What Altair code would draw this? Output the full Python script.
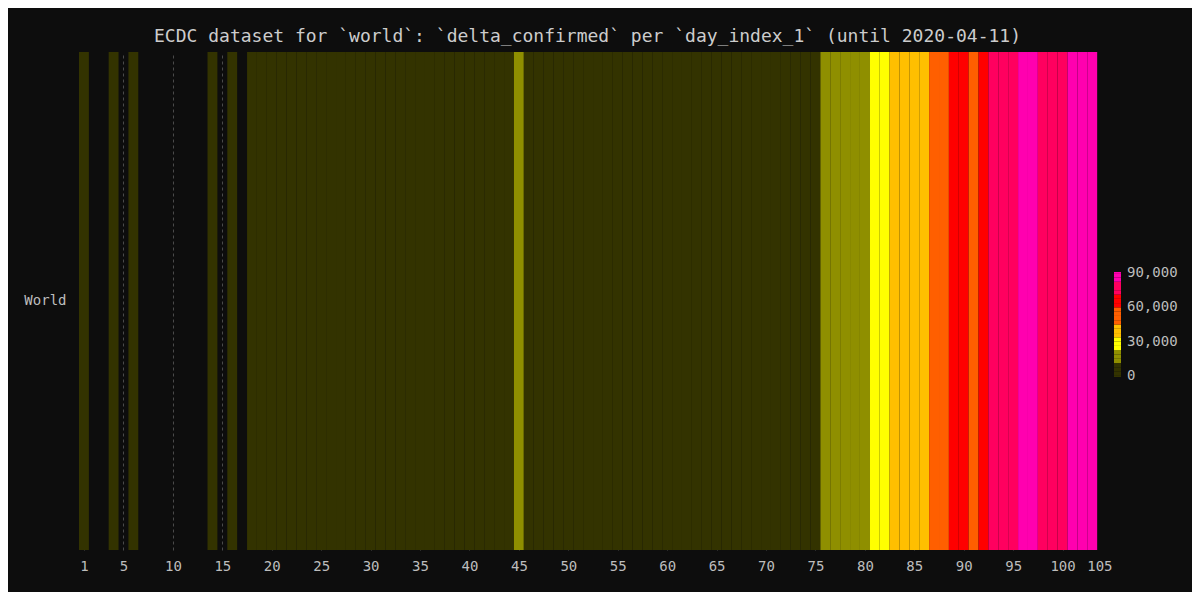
import altair as alt
import pandas as pd

# ---- data ----
region = "World"
day_index_1 = list(range(1, 104))
delta_confirmed = [
    27, 0, 0, 17, 0, 15, 0, 0, 0, 0,            # days 1-10
    0, 0, 0, 1, 0, 1, 0, 4, 136, 19,           # days 11-20
    151, 140, 97, 266, 453, 674, 802, 2984, 1467, 1740,   # 21-30
    1980, 2102, 2590, 2829, 3235, 3684, 3494, 3143, 3385, 2652,  # 31-40
    2984, 2473, 2022, 1820, 15141, 3650, 2641, 2009, 2048, 1888,  # 41-50
    1751, 650, 1000, 1000, 700, 600, 900, 800, 1100, 1300,  # 51-60
    1800, 1900, 1800, 2200, 2300, 2700, 2900, 3800, 3900, 4000,  # 61-70
    4300, 7700, 7900, 9600, 10400, 11700, 13900, 14500, 16000, 21500,  # 71-80
    26000, 32000, 34000, 36500, 40000, 43500, 49500, 55000, 64000, 60000,  # 81-90
    55000, 62000, 73000, 76000, 77000, 86000, 81000, 74000, 69000, 74000,  # 91-100
    82000, 86000, 89800,                       # 101-103
]
tick_values = [1, 5, 10, 15, 20, 25, 30, 35, 40, 45, 50, 55, 60, 65, 70,
               75, 80, 85, 90, 95, 100, 105]
legend_labels = [0, 30000, 60000, 90000]
color_domain = [-1000, 91000]
# boundaries of the legend's colour steps
legend_steps = [-1000] + list(range(0, 90001, 3750)) + [91000]
palette = [
    "#333300", "#333300", "#333300",
    "#8f8f00", "#8f8f00", "#8f8f00",
    "#ffff00", "#ffff00", "#ffff00",
    "#ffbf00", "#ffbf00", "#ffbf00",
    "#ff5f00", "#ff5f00", "#ff5f00",
    "#ff0000", "#ff0000", "#ff0000",
    "#ff005f", "#ff005f", "#ff005f",
    "#ff00af", "#ff00af", "#ff00af",
]

df = pd.DataFrame({
    "region": region,
    "day_index_1": day_index_1,
    "delta_confirmed": delta_confirmed,
})

MONO = "DejaVu Sans Mono"
TXT = "#bdbdbd"
BG = "#0d0d0d"

label_expr = (
    "indexof(" + str(legend_labels) + ", datum.value) >= 0 ? format(datum.value, ',') : ''"
)

chart = (
    alt.Chart(df)
    .transform_filter("datum.delta_confirmed > 0")
    .transform_calculate(x0="datum.day_index_1 - 0.5", x1="datum.day_index_1 + 0.5")
    .mark_rect()
    .encode(
        x=alt.X(
            "x0:Q",
            scale=alt.Scale(domain=[0.5, 105], nice=False, zero=False),
            axis=alt.Axis(
                values=tick_values, title=None, grid=True, gridDash=[3, 3],
                gridColor="#4a4a4a",
                gridOpacity=alt.condition("datum.value == 105", alt.value(0), alt.value(1)),
                ticks=False, tickSize=0, domain=False, labelPadding=9,
                labelFontSize=14, labelColor=TXT, labelFont=MONO,
            ),
        ),
        x2="x1:Q",
        y=alt.Y(
            "region:N",
            axis=alt.Axis(
                title=None, ticks=False, tickSize=0, domain=False, labelPadding=13,
                labelFontSize=14, labelColor=TXT, labelFont=MONO,
            ),
        ),
        color=alt.Color(
            "delta_confirmed:Q",
            scale=alt.Scale(type="quantize", domain=color_domain, range=palette, nice=False, zero=False),
            legend=alt.Legend(
                type="gradient", orient="none", values=legend_steps,
                legendX=1035, legendY=220, gradientLength=105, gradientThickness=7,
                title=None, labelExpr=label_expr, labelFont=MONO, labelFontSize=14,
                labelColor=TXT, labelOffset=6, labelBaseline="middle",
                labelOverlap=False, gradientStrokeWidth=0,
            ),
        ),
        tooltip=["day_index_1:Q", "delta_confirmed:Q"],
    )
    .properties(
        width=1033,
        height=498,
        title=alt.Title(
            "ECDC dataset for `world`: `delta_confirmed` per `day_index_1` (until 2020-04-11)",
            font=MONO, fontSize=18, fontWeight="normal", color="#cccccc",
            anchor="middle", offset=6, dx=-8,
        ),
        autosize=alt.AutoSizeParams(type="none"),
        padding={"left": 71, "top": 44, "right": 80, "bottom": 42},
        background=BG,
    )
    .configure_view(stroke=None)
)

chart.save("out.html", embed_options={"renderer": "svg", "actions": False})
